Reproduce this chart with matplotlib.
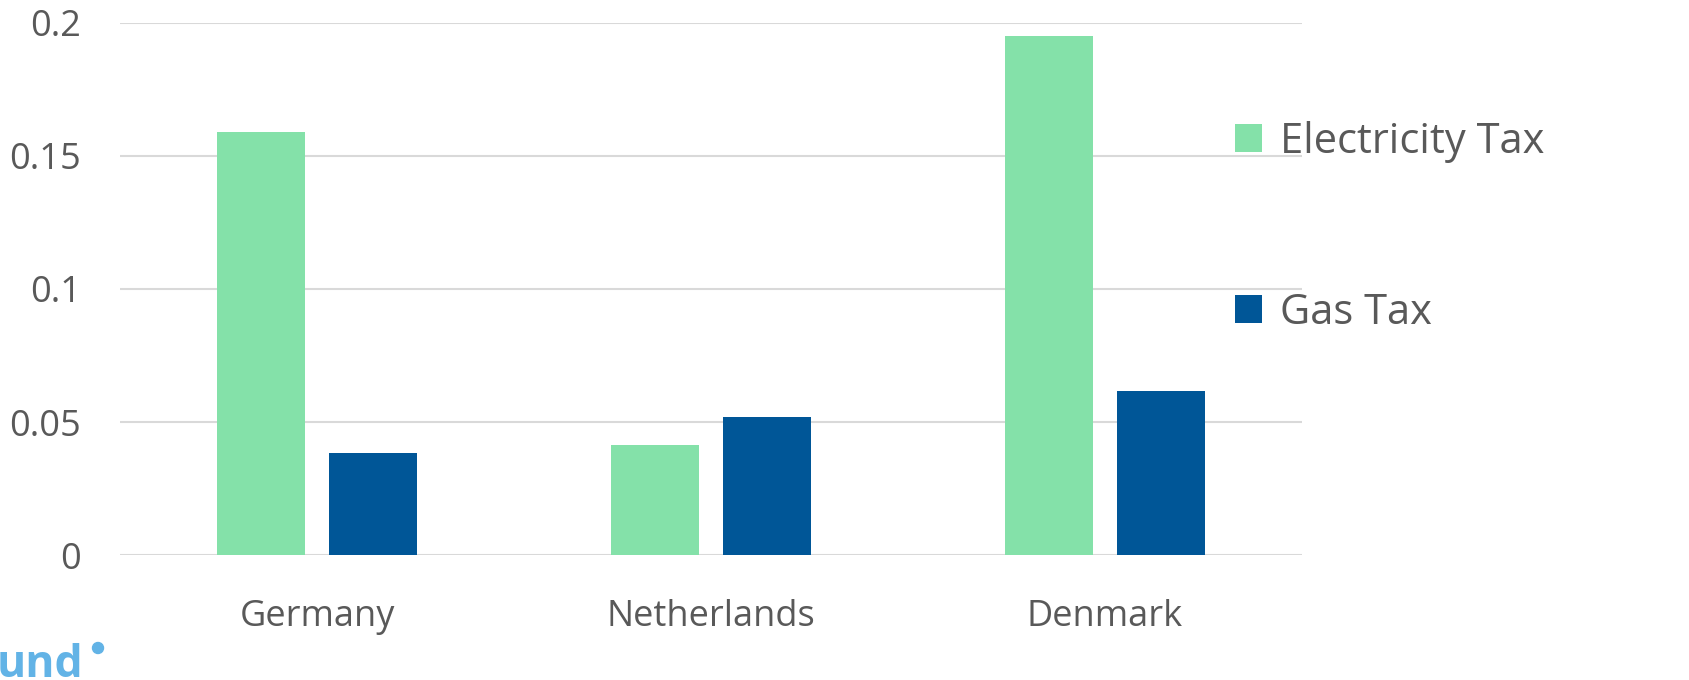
import matplotlib
matplotlib.use("Agg")
import matplotlib.pyplot as plt
import numpy as np
from matplotlib.patches import Patch, Ellipse

categories = ["Germany", "Netherlands", "Denmark"]
electricity_tax = [0.159, 0.0414, 0.195]
gas_tax = [0.0383, 0.0519, 0.0617]
series_names = ["Electricity Tax", "Gas Tax"]
yticks = [0, 0.05, 0.1, 0.15, 0.2]
ytick_labels = ["0", "0.05", "0.1", "0.15", "0.2"]

green = "#84E1A9"
blue = "#005697"
grey = "#595959"
logo_blue = "#62B3E6"

plt.rcParams['font.family'] = ['Open Sans', 'DejaVu Sans']

fig = plt.figure(figsize=(16.9, 6.8), dpi=100)
ax = fig.add_axes([0.071, 0.1838, 0.6994, 0.7824])

x = np.arange(len(categories))
w = 0.223
off = 0.142
ax.bar(x - off, electricity_tax, width=w, color=green, zorder=3)
ax.bar(x + off, gas_tax, width=w, color=blue, zorder=3)

ax.set_xlim(-0.5, 2.5)
ax.set_ylim(0, 0.2)
ax.set_yticks(yticks)
ax.set_yticklabels(ytick_labels)
ax.set_xticks(x)
ax.set_xticklabels(categories)
ax.yaxis.grid(True, color="#D9D9D9", linewidth=1.5, zorder=0)
ax.set_axisbelow(True)
for s in ax.spines.values():
    s.set_visible(False)
ax.tick_params(axis='both', length=0, labelsize=26, colors=grey)
ax.tick_params(axis='y', pad=28)
ax.tick_params(axis='x', pad=32)

handles = [Patch(facecolor=green, label=series_names[0]),
           Patch(facecolor=blue, label=series_names[1])]
leg = fig.legend(handles=handles, loc='upper left', bbox_to_anchor=(0.7308, 0.8226),
                 frameon=False, fontsize=30, labelspacing=3.1, borderpad=0,
                 borderaxespad=0, handlelength=0.65, handleheight=0.65,
                 handletextpad=0.43)
for t in leg.get_texts():
    t.set_color(grey)

fig.text(-0.002, 3/680, "und", color=logo_blue, fontsize=32, fontweight='bold',
         ha='left', va='baseline')
fig.patches.append(Ellipse((98/1690, 1-648/680), 11/1690, 11/680,
                           transform=fig.transFigure, color=logo_blue))

fig.savefig("out.png", dpi=100)
